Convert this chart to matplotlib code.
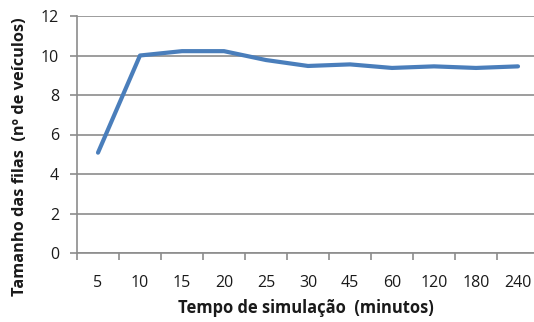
import matplotlib
matplotlib.use("Agg")
import matplotlib.pyplot as plt
import numpy as np

categories = ["5", "10", "15", "20", "25", "30", "45", "60", "120", "180", "240"]
values = [5.08, 10.0, 10.22, 10.22, 9.77, 9.47, 9.55, 9.37, 9.45, 9.37, 9.45]
yticks = [0, 2, 4, 6, 8, 10, 12]

plt.rcParams['font.family'] = ['Open Sans', 'DejaVu Sans']
W, H = 534, 322
fig = plt.figure(figsize=(W/100, H/100), dpi=100)
left, right = 77, 539
top, bottom = 16, 253
ax = fig.add_axes([left/W, 1 - bottom/H, (right-left)/W, (bottom-top)/H])

x = np.arange(len(categories))
ax.plot(x, values, color="#4A7EBB", lw=3.0, solid_capstyle='round', solid_joinstyle='round', zorder=3)

ax.set_xlim(-0.5, len(categories) - 0.5)
ax.set_ylim(0, 12)
ax.set_yticks(yticks)
ax.set_yticklabels([str(v) for v in yticks], fontsize=11.5, color="#1a1a1a")
ax.grid(axis='y', color="#8C8C8C", lw=1.2)
ax.set_axisbelow(True)

ax.set_xticks(x)
ax.set_xticklabels(categories, fontsize=11.5, color="#1a1a1a")
ax.tick_params(axis='x', which='major', length=0, pad=16)
ax.set_xticks(np.arange(-0.5, len(categories) + 0.5, 1), minor=True)
ax.tick_params(axis='x', which='minor', length=5, color="#8C8C8C", width=1.2)
ax.tick_params(axis='y', length=5, color="#8C8C8C", width=1.2, pad=8)

for s in ['top', 'right']:
    ax.spines[s].set_visible(False)
for s in ['left', 'bottom']:
    ax.spines[s].set_color("#8C8C8C")
    ax.spines[s].set_linewidth(1.2)

fig.text(306/W, 1 - 308/H, "Tempo de simulação  (minutos)", ha='center', va='center',
         fontsize=11.9, fontweight='bold', color="#1a1a1a")
fig.text(20/W, 1 - 157/H, "Tamanho das filas  (nº de veículos)", ha='center', va='center',
         rotation=90, fontsize=11.8, fontweight='bold', color="#1a1a1a")

fig.savefig("out.png", dpi=100)
